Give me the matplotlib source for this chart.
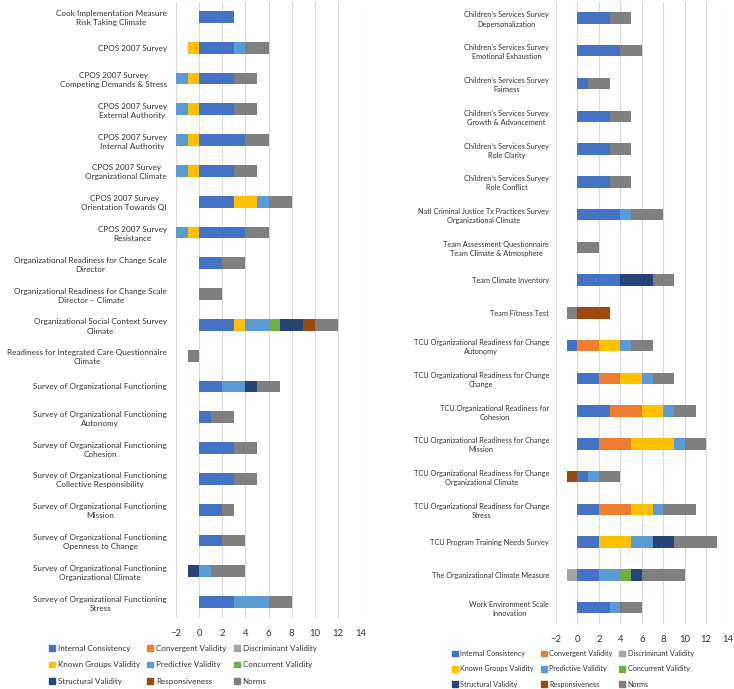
import numpy as np
import matplotlib
matplotlib.use("Agg")
import matplotlib.pyplot as plt
from matplotlib.patches import Patch

plt.rcParams['font.family'] = ['Lato', 'DejaVu Sans']

# series, in stacking order
series = ["Internal Consistency", "Convergent Validity", "Discriminant Validity",
          "Known Groups Validity", "Predictive Validity", "Concurrent Validity",
          "Structural Validity", "Responsiveness", "Norms"]
colors = ["#4472C4", "#ED7D31", "#A5A5A5", "#FFC000", "#5B9BD5", "#70AD47",
          "#264478", "#9E480E", "#7F7F7F"]

# ---- left panel ----
left_labels = [
    "Cook Implementation Measure\nRisk Taking Climate",
    "CPOS 2007 Survey",
    "CPOS 2007 Survey\nCompeting Demands & Stress",
    "CPOS 2007 Survey\nExternal Authority",
    "CPOS 2007 Survey\nInternal Authority",
    "CPOS 2007 Survey\nOrganizational Climate",
    "CPOS 2007 Survey\nOrientation Towards QI",
    "CPOS 2007 Survey\nResistance",
    "Organizational Readiness for Change Scale\nDirector",
    "Organizational Readiness for Change Scale\nDirector \u2013 Climate",
    "Organizational Social Context Survey\nClimate",
    "Readiness for Integrated Care Questionnaire\nClimate",
    "Survey of Organizational Functioning",
    "Survey of Organizational Functioning\nAutonomy",
    "Survey of Organizational Functioning\nCohesion",
    "Survey of Organizational Functioning\nCollective Responsibility",
    "Survey of Organizational Functioning\nMission",
    "Survey of Organizational Functioning\nOpenness to Change",
    "Survey of Organizational Functioning\nOrganizational Climate",
    "Survey of Organizational Functioning\nStress",
]
left_ic     = [3, 3, 3, 3, 4, 3, 3, 4, 2, 0, 3, 0, 2, 1, 3, 3, 2, 2, 0, 3]
left_conv   = [0, 0, 0, 0, 0, 0, 0, 0, 0, 0, 0, 0, 0, 0, 0, 0, 0, 0, 0, 0]
left_disc   = [0, 0, 0, 0, 0, 0, 0, 0, 0, 0, 0, 0, 0, 0, 0, 0, 0, 0, 0, 0]
left_kg     = [0, -1, -1, -1, -1, -1, 2, -1, 0, 0, 1, 0, 0, 0, 0, 0, 0, 0, 0, 0]
left_pred   = [0, 1, -1, -1, -1, -1, 1, -1, 0, 0, 2, 0, 2, 0, 0, 0, 0, 0, 1, 3]
left_conc   = [0, 0, 0, 0, 0, 0, 0, 0, 0, 0, 1, 0, 0, 0, 0, 0, 0, 0, 0, 0]
left_struct = [0, 0, 0, 0, 0, 0, 0, 0, 0, 0, 2, 0, 1, 0, 0, 0, 0, 0, -1, 0]
left_resp   = [0, 0, 0, 0, 0, 0, 0, 0, 0, 0, 1, 0, 0, 0, 0, 0, 0, 0, 0, 0]
left_norms  = [0, 2, 2, 2, 2, 2, 2, 2, 2, 2, 2, -1, 2, 2, 2, 2, 1, 2, 3, 2]

# ---- right panel ----
right_labels = [
    "Children\u2019s Services Survey\nDepersonalization",
    "Children\u2019s Services Survey\nEmotional Exhaustion",
    "Children\u2019s Services Survey\nFairness",
    "Children\u2019s Services Survey\nGrowth & Advancement",
    "Children\u2019s Services Survey\nRole Clarity",
    "Children\u2019s Services Survey\nRole Conflict",
    "Natl Criminal Justice Tx Practices Survey\nOrganizational Climate",
    "Team Assessment Questionnaire\nTeam Climate & Atmosphere",
    "Team Climate Inventory",
    "Team Fitness Test",
    "TCU Organizational Readiness for Change\nAutonomy",
    "TCU Organizational Readiness for Change\nChange",
    "TCU Organizational Readiness for\nCohesion",
    "TCU Organizational Readiness for Change\nMission",
    "TCU Organizational Readiness for Change\nOrganizational Climate",
    "TCU Organizational Readiness for Change\nStress",
    "TCU Program Training Needs Survey",
    "The Organizational Climate Measure",
    "Work Environment Scale\nInnovation",
]
right_ic     = [3, 4, 1, 3, 3, 3, 4, 0, 4, 0, -1, 2, 3, 2, 1, 2, 2, 2, 3]
right_conv   = [0, 0, 0, 0, 0, 0, 0, 0, 0, 0, 2, 2, 3, 3, 0, 3, 0, 0, 0]
right_disc   = [0, 0, 0, 0, 0, 0, 0, 0, 0, 0, 0, 0, 0, 0, 0, 0, 0, -1, 0]
right_kg     = [0, 0, 0, 0, 0, 0, 0, 0, 0, 0, 2, 2, 2, 4, 0, 2, 3, 0, 0]
right_pred   = [0, 0, 0, 0, 0, 0, 1, 0, 0, 0, 1, 1, 1, 1, 1, 1, 2, 2, 1]
right_conc   = [0, 0, 0, 0, 0, 0, 0, 0, 0, 0, 0, 0, 0, 0, 0, 0, 0, 1, 0]
right_struct = [0, 0, 0, 0, 0, 0, 0, 0, 3, 0, 0, 0, 0, 0, 0, 0, 2, 1, 0]
right_resp   = [0, 0, 0, 0, 0, 0, 0, 0, 0, 3, 0, 0, 0, 0, -1, 0, 0, 0, 0]
right_norms  = [2, 2, 2, 2, 2, 2, 3, 2, 2, -1, 2, 2, 2, 2, 2, 3, 4, 4, 2]

left_data = [left_ic, left_conv, left_disc, left_kg, left_pred, left_conc,
             left_struct, left_resp, left_norms]
right_data = [right_ic, right_conv, right_disc, right_kg, right_pred, right_conc,
              right_struct, right_resp, right_norms]

TXT = '#333333'


def draw_panel(ax, labels, data, bar_h, fs, pad):
    y = np.arange(len(labels))
    pos = np.zeros(len(labels))
    neg = np.zeros(len(labels))
    for vals, col, name in zip(data, colors, series):
        vals = np.array(vals, dtype=float)
        start = np.where(vals >= 0, pos, neg)
        ax.barh(y, vals, left=start, height=bar_h, color=col, label=name, zorder=3)
        pos = pos + np.clip(vals, 0, None)
        neg = neg + np.clip(vals, None, 0)
    ax.set_xlim(-2, 14)
    ax.set_xticks(np.arange(-2, 15, 2))
    ax.set_ylim(len(labels) - 0.5, -0.5)
    ax.set_yticks(y)
    ax.set_yticklabels(labels, ha='right', multialignment='center', fontsize=fs,
                       color=TXT, linespacing=1.35)
    ax.tick_params(axis='x', labelsize=6.8, colors=TXT, length=0, pad=8)
    ax.tick_params(axis='y', length=0, pad=pad)
    ax.grid(axis='x', color='#D9D9D9', linewidth=0.8, zorder=0)
    for s in ax.spines.values():
        s.set_visible(False)


fig = plt.figure(figsize=(7.34, 6.89), dpi=100)

ax1 = fig.add_axes([176 / 734, 1 - 617.5 / 689, 185 / 734, 616 / 689])
draw_panel(ax1, left_labels, left_data, 0.38, 5.9, 6.5)

ax2 = fig.add_axes([556 / 734, 1 - 624 / 689, 171.7 / 734, 622.4 / 689])
draw_panel(ax2, right_labels, right_data, 0.35, 5.3, 5)

# legend, filled row-wise like the original
order = [0, 3, 6, 1, 4, 7, 2, 5, 8]
handles = [Patch(color=colors[i], label=series[i]) for i in order]
fig.legend(handles=handles, ncol=3, loc='upper left',
           bbox_to_anchor=(49 / 734, 1 - 645 / 689), frameon=False,
           fontsize=5.8, handlelength=0.75, handleheight=0.75, borderpad=0,
           borderaxespad=0, handletextpad=0.35, columnspacing=0.9,
           labelspacing=1.15, labelcolor=TXT)
fig.legend(handles=handles, ncol=3, loc='upper left',
           bbox_to_anchor=(452 / 734, 1 - 650 / 689), frameon=False,
           fontsize=5.2, handlelength=0.8, handleheight=0.8, borderpad=0,
           borderaxespad=0, handletextpad=0.35, columnspacing=0.95,
           labelspacing=1.15, labelcolor=TXT)

fig.savefig("out.png", dpi=100)
